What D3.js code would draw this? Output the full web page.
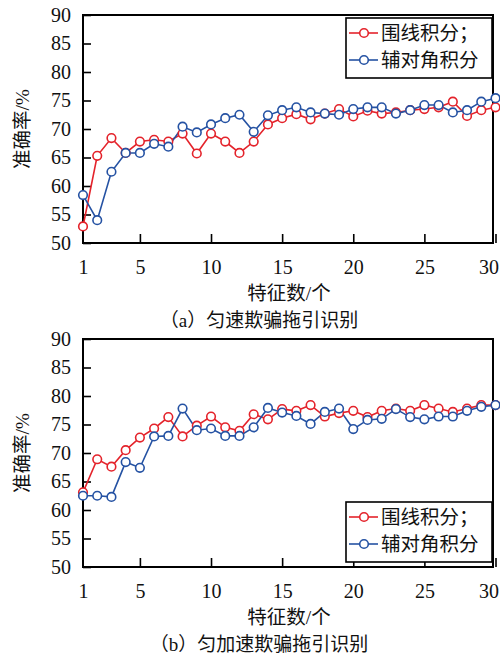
<!DOCTYPE html>
<html><head><meta charset="utf-8">
<script src="https://cdn.jsdelivr.net/npm/d3@7"></script>
<style>
body{margin:0;background:#fff;}
svg{display:block;}
</style></head>
<body>
<svg id="c" width="500" height="655"></svg>
<script>
const features = d3.range(1, 31);
const xTicks = [1, 5, 10, 15, 20, 25, 30];
const yTicks = [50, 55, 60, 65, 70, 75, 80, 85, 90];
const seriesNames = ["围线积分；", "辅对角积分"];
const captions = ["（a）匀速欺骗拖引识别", "（b）匀加速欺骗拖引识别"];
const xTitle = "特征数/个";
const yTitle = "准确率/%";

// (a) uniform velocity
const aContour = [52.9,65.3,68.4,65.8,67.8,68.1,67.8,69.2,65.7,69.2,67.8,65.8,67.8,70.8,71.9,72.6,71.7,72.7,73.5,72.2,73.2,72.7,72.9,73.3,73.5,73.8,74.8,72.3,73.3,73.8];
const aDiag    = [58.4,54.0,62.5,65.8,65.8,67.4,66.9,70.4,69.4,70.8,71.9,72.5,69.5,72.4,73.3,73.8,72.9,72.7,72.5,73.5,73.8,73.8,72.7,73.3,74.2,74.2,72.9,73.3,74.8,75.4];
// (b) uniform acceleration
const bContour = [63.1,68.9,67.6,70.5,72.7,74.3,76.3,72.9,74.8,76.4,74.5,73.9,76.8,75.9,77.7,77.4,78.4,76.4,77.0,77.4,76.3,77.4,77.8,77.4,78.4,77.8,77.2,77.8,78.4,78.4];
const bDiag    = [62.5,62.5,62.3,68.4,67.4,72.9,73.0,77.8,74.0,74.3,73.0,73.0,74.5,77.9,77.1,76.5,75.1,77.2,77.8,74.2,75.8,76.0,77.7,76.3,75.9,76.4,76.4,77.4,78.1,78.4];

const colors = ["#e4232b", "#2552a3"];
const NUM = "'Liberation Serif', serif";
const CJK = "'Liberation Serif', 'Noto Sans CJK SC', serif";

const svg = d3.select("#c");

function panel(offY, series, caption, legendTop) {
  const left = 83, right = 493, top = 15 + offY, bottom = 243 + offY;
  const x = d3.scaleLinear().domain([1, 30]).range([left, 495.5]);
  const y = d3.scaleLinear().domain([50, 90]).range([bottom, top]);
  const g = svg.append("g");

  const ya = g.append("g").attr("transform", `translate(${left},0)`)
    .call(d3.axisLeft(y).tickValues(yTicks).tickSize(-8).tickPadding(12).tickFormat(d3.format("d")));
  const xa = g.append("g").attr("transform", `translate(0,${bottom})`)
    .call(d3.axisBottom(x).tickValues(xTicks).tickSize(-9).tickPadding(17).tickFormat(d3.format("d")));
  [ya, xa].forEach(a => {
    a.attr("font-family", null).attr("font-size", null);
    a.select(".domain").remove();
    a.selectAll("line").attr("stroke", "#000").attr("stroke-width", 1.6);
    a.selectAll("text").style("font-family", NUM).style("font-size", "20px").attr("fill", "#111");
  });
  xa.selectAll(".tick").filter(d => d === 30).select("text").attr("dx", -7);
  xa.selectAll(".tick").filter(d => d === 1).select("line").remove();

  g.append("rect").attr("x", left).attr("y", top).attr("width", right - left).attr("height", bottom - top)
    .attr("fill", "none").attr("stroke", "#000").attr("stroke-width", 2);

  const line = d3.line().x((d, i) => x(features[i])).y(d => y(d));
  series.forEach((s, k) => {
    g.append("path").datum(s).attr("d", line).attr("fill", "none")
      .attr("stroke", colors[k]).attr("stroke-width", 1.6);
  });
  series.forEach((s, k) => {
    g.selectAll(null).data(s).join("circle")
      .attr("cx", (d, i) => x(features[i])).attr("cy", d => y(d)).attr("r", 4.3)
      .attr("fill", "#fff").attr("stroke", colors[k]).attr("stroke-width", 1.6);
  });

  const lg = g.append("g").attr("transform", `translate(346,${legendTop + offY})`);
  lg.append("rect").attr("width", 146).attr("height", 60).attr("fill", "#fff")
    .attr("stroke", "#000").attr("stroke-width", 1.6);
  seriesNames.forEach((n, k) => {
    const yy = 15 + k * 27;
    lg.append("line").attr("x1", 3).attr("x2", 32).attr("y1", yy).attr("y2", yy)
      .attr("stroke", colors[k]).attr("stroke-width", 1.6);
    lg.append("circle").attr("cx", 18).attr("cy", yy).attr("r", 4.3).attr("fill", "#fff")
      .attr("stroke", colors[k]).attr("stroke-width", 1.6);
    lg.append("text").attr("x", 35).attr("y", yy).attr("dy", "0.36em")
      .style("font-family", CJK).style("font-size", "19.5px").attr("fill", "#111").text(n);
  });

  g.append("text").attr("x", 289).attr("y", 293 + offY).attr("dy", "0.36em")
    .attr("text-anchor", "middle").style("font-family", CJK).style("font-size", "19.5px").attr("fill", "#111").text(xTitle);
  g.append("text").attr("transform", `translate(22,${129 + offY}) rotate(-90)`)
    .attr("dy", "0.36em").attr("text-anchor", "middle").style("font-family", CJK).style("font-size", "19.5px").attr("fill", "#111").text(yTitle);
  g.append("text").attr("x", 259).attr("y", 320 + offY).attr("dy", "0.36em")
    .attr("text-anchor", "middle").style("font-family", CJK).style("font-size", "19px").attr("fill", "#111").text(caption);
}

panel(0, [aContour, aDiag], captions[0], 18);
panel(324, [bContour, bDiag], captions[1], 178);
</script>
</body></html>
